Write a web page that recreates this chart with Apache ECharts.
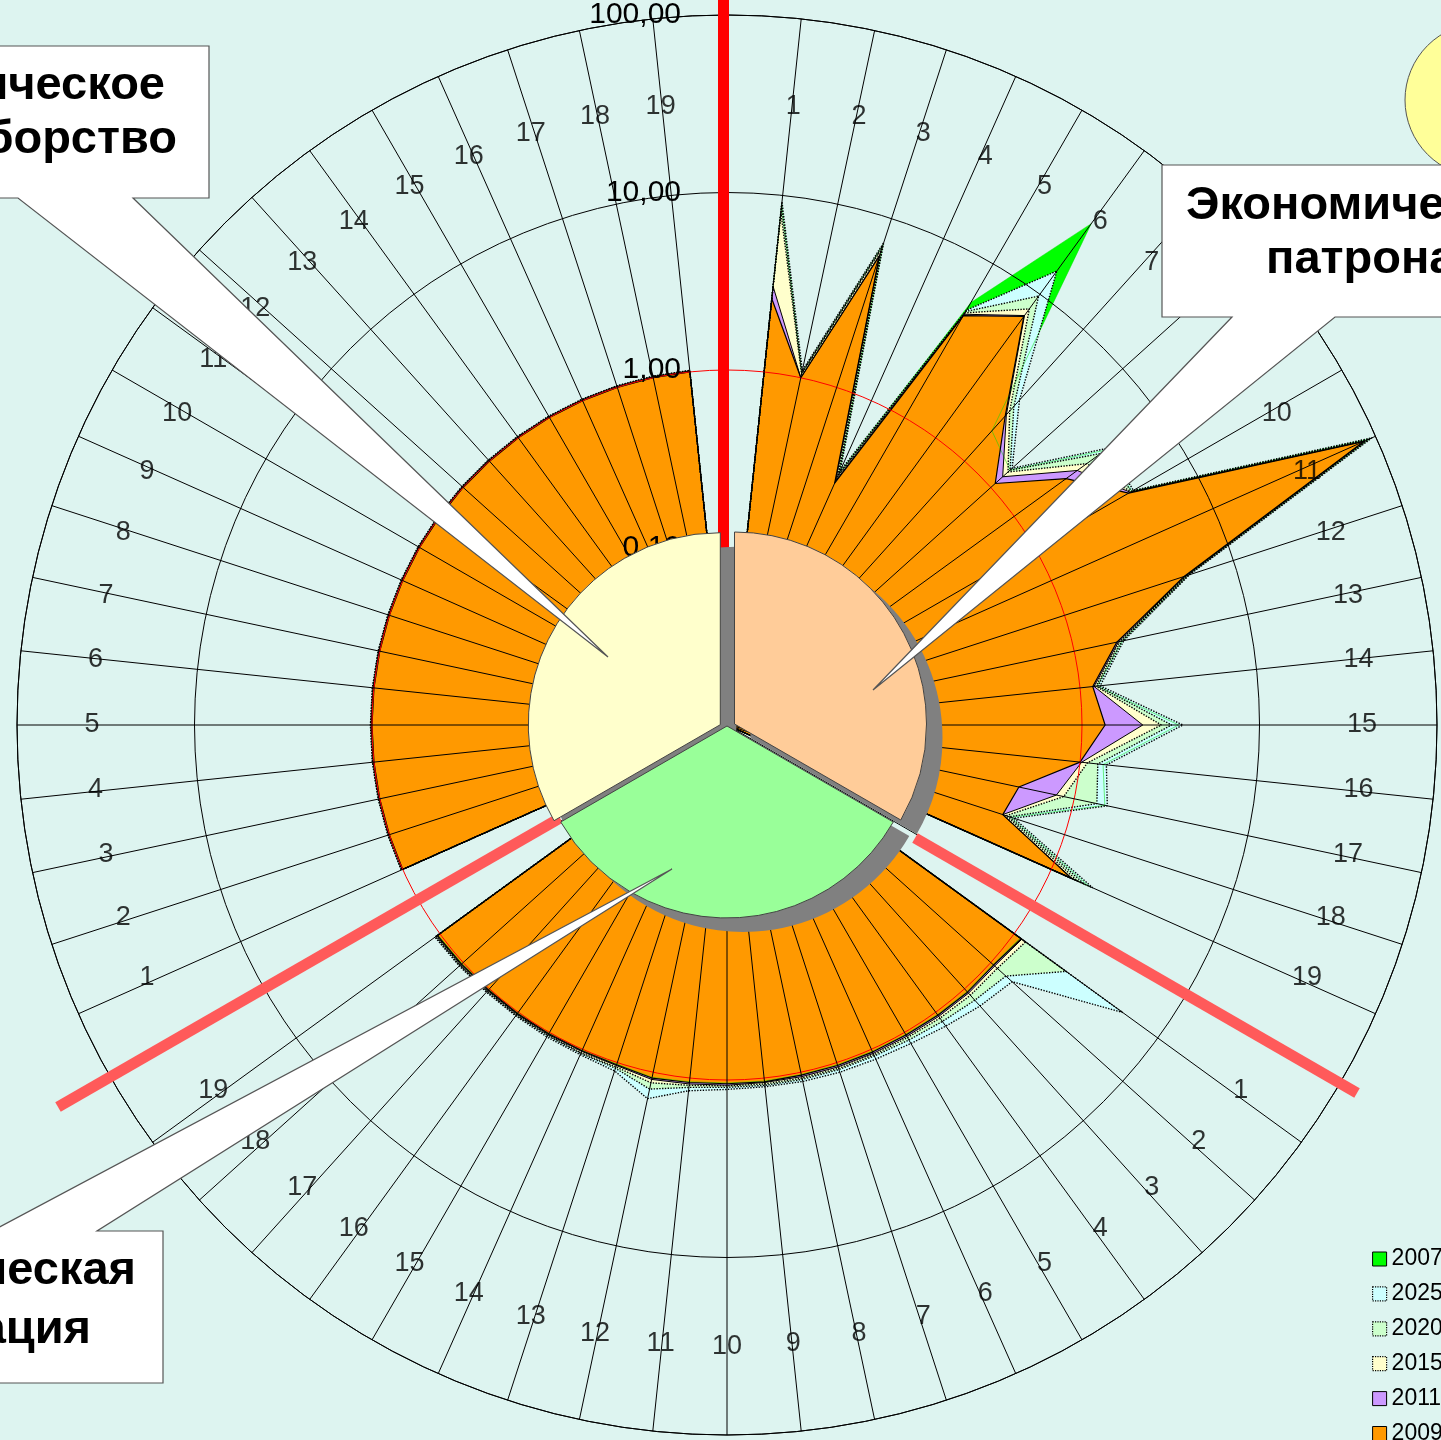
<!DOCTYPE html>
<html>
<head>
<meta charset="utf-8">
<script src="https://cdn.jsdelivr.net/npm/echarts@6/dist/echarts.min.js"></script>
<style>
  html, body { margin: 0; padding: 0; background: #ddf4f0; }
  #chart { width: 1441px; height: 1440px; }
</style>
</head>
<body>
<div id="chart"></div>
<script>
// spoke labels of one sector (the chart has three sectors of 19 spokes + a separator spoke each)
const sectorTicks = ['1','2','3','4','5','6','7','8','9','10','11','12','13','14','15','16','17','18','19'];
const radiusTicks = [0.01, 0.1, 1, 10, 100];
const years = ['2007', '2025', '2020', '2015', '2011', '2009'];

// values per spoke, clockwise from the top: separator, 19 spokes, separator, 19, separator, 19
const s2007 = [
  0.01,
  8.9, 1.06, 7.0, 0.36, 5.6, 31, 1.7, 1.4, 4.3, 4.3, 92, 5.3, 1.9, 1.25, 3.5, 1.35, 1.5, 0.48, 1.7,
  0.01,
  1.1, 1.04, 1.05, 1.04, 1.03, 1.03, 1.03, 1.03, 1.04, 1.04, 1.05, 1.07, 1.02, 1.01, 1.01, 1.01, 1.01, 1.02, 1.03,
  0.01,
  1.0, 1.0, 1.0, 1.0, 1.0, 1.0, 1.0, 1.0, 1.0, 1.0, 1.0, 1.0, 1.0, 1.0, 1.0, 1.0, 1.0, 1.0, 1.0
];
const s2025 = [
  0.01,
  9.2, 1.1, 7.2, 0.37, 5.0, 14.5, 2.9, 1.45, 4.5, 4.4, 95, 5.5, 1.93, 1.3, 3.7, 1.41, 1.55, 0.5, 1.8,
  0.01,
  5.7, 1.45, 1.35, 1.25, 1.18, 1.15, 1.14, 1.13, 1.12, 1.13, 1.18, 1.42, 1.12, 1.08, 1.07, 1.06, 1.06, 1.07, 1.08,
  0.01,
  1.02, 1.02, 1.02, 1.02, 1.02, 1.02, 1.02, 1.02, 1.02, 1.02, 1.02, 1.02, 1.02, 1.02, 1.02, 1.02, 1.02, 1.02, 1.02
];
const s2020 = [
  0.01,
  8.7, 1.07, 6.9, 0.35, 4.9, 9.7, 2.6, 1.4, 4.0, 4.3, 91, 5.4, 1.88, 1.26, 3.2, 1.26, 1.35, 0.47, 1.6,
  0.01,
  2.3, 1.3, 1.22, 1.16, 1.12, 1.1, 1.1, 1.1, 1.1, 1.1, 1.13, 1.25, 1.08, 1.06, 1.05, 1.05, 1.05, 1.06, 1.07,
  0.01,
  1.02, 1.02, 1.02, 1.02, 1.02, 1.02, 1.02, 1.02, 1.02, 1.02, 1.02, 1.02, 1.02, 1.02, 1.02, 1.02, 1.02, 1.02, 1.02
];
const s2015 = [
  0.01,
  8.0, 1.05, 6.6, 0.34, 4.8, 7.9, 2.4, 1.35, 3.2, 4.25, 88, 5.3, 1.83, 1.23, 2.8, 1.1, 0.87, 0.45, 1.45,
  0.01,
  1.2, 1.12, 1.12, 1.1, 1.08, 1.08, 1.08, 1.08, 1.08, 1.08, 1.1, 1.15, 1.06, 1.05, 1.04, 1.04, 1.04, 1.05, 1.06,
  0.01,
  1.01, 1.01, 1.01, 1.01, 1.01, 1.01, 1.01, 1.01, 1.01, 1.01, 1.01, 1.01, 1.01, 1.01, 1.01, 1.01, 1.01, 1.01, 1.01
];
const s2011 = [
  0.01,
  3.05, 1.0, 6.1, 0.32, 4.7, 7.1, 2.25, 1.23, 2.75, 4.2, 86, 5.2, 1.8, 1.2, 2.2, 1.02, 0.79, 0.43, 1.35,
  0.01,
  1.13, 1.07, 1.08, 1.07, 1.06, 1.06, 1.06, 1.06, 1.06, 1.07, 1.08, 1.1, 1.04, 1.03, 1.03, 1.03, 1.03, 1.04, 1.05,
  0.01,
  1.01, 1.01, 1.01, 1.01, 1.01, 1.01, 1.01, 1.01, 1.01, 1.01, 1.01, 1.01, 1.01, 1.01, 1.01, 1.01, 1.01, 1.01, 1.01
];
const s2009 = [
  0.01,
  2.6, 1.0, 6.0, 0.31, 4.6, 7.0, 2.2, 1.08, 2.3, 4.1, 85, 5.1, 1.76, 1.18, 1.35, 1.0, 0.48, 0.43, 1.33,
  0.01,
  1.12, 1.05, 1.06, 1.05, 1.04, 1.04, 1.04, 1.04, 1.05, 1.05, 1.06, 1.08, 1.03, 1.02, 1.02, 1.02, 1.02, 1.03, 1.04,
  0.01,
  1.0, 1.0, 1.0, 1.0, 1.0, 1.0, 1.0, 1.0, 1.0, 1.0, 1.0, 1.0, 1.0, 1.0, 1.0, 1.0, 1.0, 1.0, 1.0
];

// central pie: three equal sectors
const pieNames = ['Экономический патронаж', 'Этническая мобилизация', 'Политическое единоборство'];
const pieShares = [1, 1, 1];

const FONT = '"Liberation Sans", Arial, sans-serif';
const step = 360 / s2009.length;
const spokeLabels = [''].concat(sectorTicks, [''], sectorTicks, [''], sectorTicks);

const toPolar = vals => vals.map((v, i) => [v, i * step]).concat([[vals[0], 360]]);

const seriesStyle = {
  '2007': { fill: '#00ff00', line: { color: '#00dd00', width: 0.5, type: 'solid' } },
  '2025': { fill: '#ccffff', line: { color: '#000', width: 1.4, type: 'dotted' } },
  '2020': { fill: '#ccffcc', line: { color: '#000', width: 1.4, type: 'dotted' } },
  '2015': { fill: '#ffffcc', line: { color: '#000', width: 1.4, type: 'dotted' } },
  '2011': { fill: '#cc99ff', line: { color: '#000', width: 1, type: 'solid' } },
  '2009': { fill: '#ff9900', line: { color: '#000', width: 1.2, type: 'solid' } }
};
const seriesData = { '2007': s2007, '2025': s2025, '2020': s2020, '2015': s2015, '2011': s2011, '2009': s2009 };

const lineSeries = years.map(y => ({
  name: y,
  type: 'line',
  coordinateSystem: 'polar',
  symbol: 'none',
  smooth: false,
  z: 2,
  lineStyle: seriesStyle[y].line,
  itemStyle: { color: seriesStyle[y].fill },
  areaStyle: { color: seriesStyle[y].fill, opacity: 1 },
  emphasis: { disabled: true },
  data: toPolar(seriesData[y])
}));

// spoke numbers drawn as labels on the polar grid (slightly wider to the sides than up/down)
const labelRadius = 31.9;
const labelSeries = {
  type: 'scatter',
  coordinateSystem: 'polar',
  symbolSize: 1,
  z: 4,
  silent: true,
  itemStyle: { color: 'rgba(0,0,0,0)' },
  label: { show: true, position: 'inside', formatter: '{b}', fontSize: 27, color: '#000', fontFamily: FONT },
  data: spokeLabels.map((t, i) => ({
    name: t,
    value: [labelRadius, i * step],
    label: { offset: [13 * Math.sin(i * step * Math.PI / 180), 0] }
  })).filter(d => d.name !== '')
};

const pieColors = ['#ffcc99', '#99ff99', '#ffffcc'];
const pieCenters = [[734.5, 724], [727, 726], [720.3, 724.7]];
const shadowShift = [16, 14];
const total = pieShares.reduce((a, b) => a + b, 0);

function makePie(k, start, isShadow) {
  const c = pieCenters[k];
  return {
    type: 'pie',
    z: isShadow ? 5 : 6,
    silent: true,
    center: isShadow ? [c[0] + shadowShift[0], c[1] + shadowShift[1]] : c,
    radius: 192,
    startAngle: start,
    clockwise: true,
    label: { show: false },
    labelLine: { show: false },
    emphasis: { disabled: true },
    data: [
      { value: pieShares[k], name: pieNames[k],
        itemStyle: isShadow ? { color: '#808080', borderWidth: 0 } : { color: pieColors[k], borderColor: '#444', borderWidth: 1 } },
      { value: total - pieShares[k], name: '', itemStyle: { color: 'rgba(0,0,0,0)', borderWidth: 0 } }
    ]
  };
}
const shadowPies = [], slicePies = [];
let acc = 0;
pieShares.forEach((v, k) => {
  const start = 90 - 360 * acc / total;
  acc += v;
  shadowPies.push(makePie(k, start, true));
  slicePies.push(makePie(k, start, false));
});

const legendIcons = {
  '2007': { color: '#00ff00', borderColor: '#000', borderWidth: 1, borderType: 'solid' },
  '2025': { color: '#ccffff', borderColor: '#000', borderWidth: 1.2, borderType: 'dotted' },
  '2020': { color: '#ccffcc', borderColor: '#000', borderWidth: 1.2, borderType: 'dotted' },
  '2015': { color: '#ffffcc', borderColor: '#000', borderWidth: 1.2, borderType: 'dotted' },
  '2011': { color: '#cc99ff', borderColor: '#000', borderWidth: 1, borderType: 'solid' },
  '2009': { color: '#ff9900', borderColor: '#000', borderWidth: 1, borderType: 'solid' }
};

const boxFont = 'bold 47px ' + FONT;
const boxStyle = { fill: '#fff', stroke: '#555', lineWidth: 1.2 };

const chart = echarts.init(document.getElementById('chart'));
chart.setOption({
  animation: false,
  backgroundColor: '#ddf4f0',
  polar: { center: [727, 725], radius: 710 },
  angleAxis: {
    type: 'value', min: 0, max: 360, interval: step, startAngle: 90, clockwise: true, z: 3,
    axisLine: { show: true, lineStyle: { color: '#000', width: 1 } },
    axisTick: { show: false },
    axisLabel: { show: false },
    splitLine: { show: true, lineStyle: { color: '#000', width: 1 } }
  },
  radiusAxis: {
    type: 'log', logBase: 10, min: radiusTicks[0], max: radiusTicks[radiusTicks.length - 1], z: 3,
    axisLine: { show: false },
    axisTick: { show: false },
    axisLabel: {
      show: true, margin: 46, fontSize: 30, color: '#000', fontFamily: FONT, padding: [5, 0, 0, 0],
      formatter: v => Number(v).toFixed(2).replace('.', ',')
    },
    splitLine: { show: true, lineStyle: { color: ['#000', '#000', '#ff0000', '#000', '#000'], width: 1 } }
  },
  legend: {
    orient: 'vertical', left: 1372, top: 1247.5, height: 260, padding: 0,
    itemWidth: 14, itemHeight: 14, itemGap: 11.9,
    selectedMode: false,
    textStyle: { fontSize: 23, color: '#000', fontFamily: FONT },
    data: years.map(y => ({ name: y, icon: 'rect', itemStyle: legendIcons[y] }))
  },
  series: lineSeries.concat([labelSeries], shadowPies, slicePies),
  graphic: [
    { type: 'line', z: 4, silent: true, shape: { x1: 723.5, y1: 0, x2: 723.5, y2: 713 }, style: { stroke: '#ff0000', lineWidth: 11 } },
    { type: 'line', z: 4, silent: true, shape: { x1: 915, y1: 838, x2: 1357, y2: 1093 }, style: { stroke: '#ff5a5a', lineWidth: 11 } },
    { type: 'line', z: 4, silent: true, shape: { x1: 560, y1: 818, x2: 58, y2: 1107 }, style: { stroke: '#ff5a5a', lineWidth: 11 } },
    { type: 'circle', z: 9, silent: true, shape: { cx: 1482, cy: 100, r: 77 }, style: { fill: '#ffff99', stroke: '#555', lineWidth: 1 } },
    { type: 'polygon', z: 10, silent: true, shape: { points: [[-20, 46], [209, 46], [209, 198], [133, 198], [608, 657], [18, 198], [-20, 198]] }, style: boxStyle },
    { type: 'polygon', z: 10, silent: true, shape: { points: [[1162, 165], [1460, 165], [1460, 317], [1335, 317], [873, 690], [1232, 317], [1162, 317]] }, style: boxStyle },
    { type: 'polygon', z: 10, silent: true, shape: { points: [[-20, 1231], [-8, 1231], [672, 869], [97, 1231], [163, 1231], [163, 1383], [-20, 1383]] }, style: boxStyle },
    { type: 'text', z: 11, silent: true, style: { text: 'Политическое', x: 165, y: 86.5, align: 'right', verticalAlign: 'middle', font: boxFont, fill: '#000' } },
    { type: 'text', z: 11, silent: true, style: { text: 'единоборство', x: 177, y: 140.5, align: 'right', verticalAlign: 'middle', font: boxFont, fill: '#000' } },
    { type: 'text', z: 11, silent: true, style: { text: 'Экономический', x: 1186, y: 206.5, align: 'left', verticalAlign: 'middle', font: boxFont, fill: '#000' } },
    { type: 'text', z: 11, silent: true, style: { text: 'патронаж', x: 1266, y: 260.5, align: 'left', verticalAlign: 'middle', font: boxFont, fill: '#000' } },
    { type: 'text', z: 11, silent: true, style: { text: 'Этническая', x: 136, y: 1271.5, align: 'right', verticalAlign: 'middle', font: boxFont, fill: '#000' } },
    { type: 'text', z: 11, silent: true, style: { text: 'мобилизация', x: 91, y: 1330.5, align: 'right', verticalAlign: 'middle', font: boxFont, fill: '#000' } }
  ]
});
window.addEventListener('resize', () => chart.resize());
</script>
</body>
</html>
